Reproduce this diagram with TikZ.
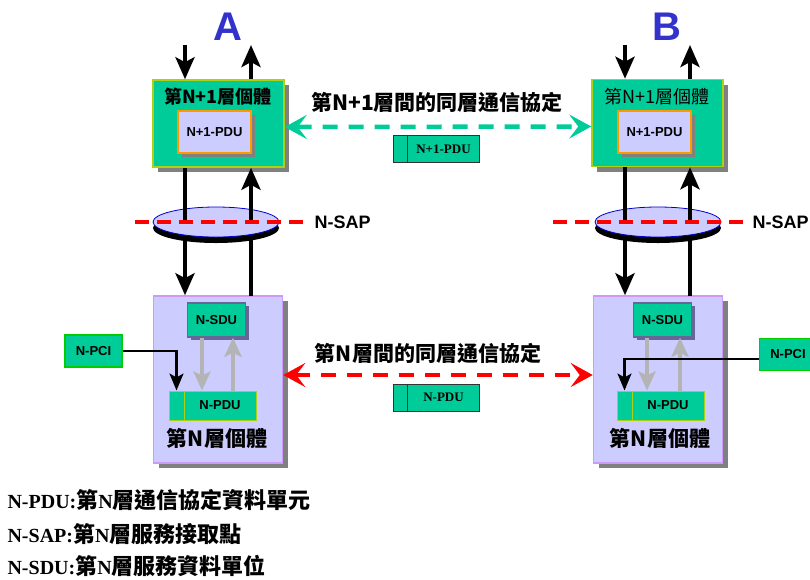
\documentclass[tikz,border=0pt]{standalone}
\usepackage{fontspec}
\setmainfont{Liberation Sans}
\newfontfamily\cjk{Noto Sans CJK TC}
\newfontfamily\tms{Liberation Serif}
\usetikzlibrary{arrows.meta,shadows,shapes.geometric}

\definecolor{entgreen}{RGB}{0,204,153}
\definecolor{limeedge}{RGB}{170,210,20}
\definecolor{lavender}{RGB}{204,204,255}
\definecolor{lilacedge}{RGB}{204,153,255}
\definecolor{pduorange}{RGB}{255,153,0}
\definecolor{letterblue}{RGB}{51,51,204}
\definecolor{slateedge}{RGB}{102,102,153}
\definecolor{pcigreen}{RGB}{0,204,0}
\definecolor{flowgray}{RGB}{180,180,180}

\tikzset{
  shade box/.style={drop shadow={shadow xshift=5pt,shadow yshift=-5pt,fill=gray,opacity=1}},
  upper/.style={rectangle,fill=entgreen,draw=limeedge,line width=1.5pt,shade box,
    minimum width=131pt,minimum height=87pt},
  lower/.style={rectangle,fill=lavender,draw=lilacedge,line width=1.5pt,shade box,
    minimum width=129pt,minimum height=167pt},
  inner/.style={rectangle,fill=lavender,draw=pduorange,line width=1.5pt,
    drop shadow={shadow xshift=4pt,shadow yshift=-4pt,fill=gray,opacity=1},
    minimum width=73pt,minimum height=42pt,font=\bfseries\fontsize{13}{15}\selectfont},
  sdu/.style={rectangle,fill=entgreen,draw=slateedge,line width=1.5pt,
    drop shadow={shadow xshift=3pt,shadow yshift=-3pt,fill=slateedge,opacity=1},
    minimum width=58pt,minimum height=34pt,font=\bfseries\fontsize{13}{15}\selectfont},
  pdu/.style={rectangle,fill=entgreen,draw=limeedge,line width=1pt,
    minimum width=72pt,minimum height=29pt,font=\bfseries\fontsize{13}{15}\selectfont},
  hdr/.style={rectangle,fill=entgreen,draw=limeedge,line width=1pt,
    minimum width=15pt,minimum height=29pt},
  pci/.style={rectangle,fill=entgreen,draw=pcigreen,line width=1.5pt,
    minimum width=57pt,minimum height=32pt,font=\bfseries\fontsize{13}{15}\selectfont},
  packet/.style={rectangle,fill=entgreen,draw=black!80,line width=1pt,
    minimum width=72pt,minimum height=27pt,font=\tms\bfseries\fontsize{13}{15}\selectfont},
  packethdr/.style={rectangle,fill=entgreen,draw=black!80,line width=1pt,
    minimum width=14pt,minimum height=27pt},
  sap/.style={ellipse,fill=lavender,draw=blue!80!black,line width=0.8pt,
    minimum width=126pt,minimum height=30pt,
    drop shadow={shadow xshift=0pt,shadow yshift=-6pt,fill=black,opacity=1}},
  letter/.style={text=letterblue,font=\bfseries\fontsize{40}{42}\selectfont},
  flow/.style={line width=4.5pt,-{Stealth[length=22pt,width=19pt,inset=5pt]}},
  gflow/.style={flowgray,line width=4pt,-{Stealth[length=19pt,width=17pt,inset=4pt]}},
  pcil/.style={line width=2.5pt,-{Stealth[length=17pt,width=14pt,inset=4pt]}},
  peer/.style={line width=4.5pt,dash pattern=on 15pt off 11pt,
    {Stealth[length=22pt,width=24pt,inset=9pt]}-{Stealth[length=22pt,width=24pt,inset=9pt]}},
  saplink/.style={red,line width=4pt,dash pattern=on 14pt off 8pt},
  title/.style={font=\cjk\bfseries\fontsize{21}{23}\selectfont},
  legend/.style={anchor=west,font=\bfseries\fontsize{20}{22}\selectfont},
}
\newcommand{\lgc}[1]{{\cjk\fontsize{22}{24}\selectfont #1}}

\begin{document}
\begin{tikzpicture}[x=1pt,y=-1pt]
\useasboundingbox (0,0) rectangle (810,579);

% entity A and B letters
\node[letter] (lA) at (228,27) {A};
\node[letter] (lB) at (667,27) {B};

% vertical flow below SAP (drawn first, hidden by the SAP)
\coordinate (dnA) at (185,222);
\coordinate (dnB) at (625,222);
\node[upper] (entA) at (218.5,123.5) {};
\node[upper] (entB) at (657.5,123) {};
\node[lower] (lowA) at (218,379.5) {};
\node[lower] (lowB) at (658,379.5) {};
\draw[flow] (dnA) -- (dnA |- lowA.north);
\draw[flow] (dnB) -- (dnB |- lowB.north);
\draw[line width=4.5pt] (251,222) -- (251,296);
\draw[line width=4.5pt] (690,222) -- (690,296);

% SAPs
\node[sap] (sapA) at (216,222) {};
\node[sap] (sapB) at (658,222) {};
\draw[line width=4.5pt] (entA.south -| dnA) -- (dnA);
\draw[line width=4.5pt] (entB.south -| dnB) -- (dnB);
\draw[flow] (251,222) -- (entA.south -| 251,0);
\draw[flow] (690,222) -- (entB.south -| 690,0);
\draw[saplink] (135,222) -- (310,222);
\draw[saplink] (553,222) -- (750,222);
\node[anchor=west,font=\bfseries\fontsize{18}{20}\selectfont] (sapAl) at (311,222) {N-SAP};
\node[anchor=west,font=\bfseries\fontsize{18}{20}\selectfont] (sapBl) at (749,222) {N-SAP};

% N+1 layer entities
\node[font=\cjk\bfseries\fontsize{18}{20}\selectfont] (tA) at (218,97) {第N+1層個體};
\node[font=\cjk\fontsize{18}{20}\selectfont] (tB) at (657,97) {第N+1層個體};
\node[inner] (ppA) at (214.5,132) {N+1-PDU};
\node[inner] (ppB) at (654.5,132) {N+1-PDU};
\coordinate (inA) at (185,45);
\coordinate (inB) at (625,45);
\draw[flow] (inA) -- (inA |- entA.north);
\draw[flow] (inB) -- (inB |- entB.north);
\draw[flow] (entA.north -| 251,0) -- (251,45);
\draw[flow] (entB.north -| 690,0) -- (690,45);

% N+1 peer protocol
\node[title] (peer1) at (437,102) {第N+1層間的同層通信協定};
\draw[peer,entgreen] ([yshift=-3.5pt]entA.east) -- ([yshift=-3.5pt]entB.west);
\node[packethdr] (ph1) at (400.5,149) {};
\node[packet] (pk1) at (443.5,149) {N+1-PDU};

% N layer entities
\node[sdu] (sduA) at (216.5,320) {N-SDU};
\node[sdu] (sduB) at (662.5,320) {N-SDU};
\node[hdr] (hdrA) at (176.5,405.5) {};
\node[pdu] (pduA) at (220,405.5) {N-PDU};
\node[hdr] (hdrB) at (624.5,405.5) {};
\node[pdu] (pduB) at (668,405.5) {N-PDU};
\draw[gflow] ([xshift=-14.5pt]sduA.south) -- ([xshift=-18pt]pduA.north);
\draw[gflow] ([xshift=13pt]pduA.north) -- ([xshift=16.5pt]sduA.south);
\draw[gflow] ([xshift=-15.5pt]sduB.south) -- ([xshift=-21pt]pduB.north);
\draw[gflow] ([xshift=12pt]pduB.north) -- ([xshift=17.5pt]sduB.south);
\node[font=\cjk\bfseries\fontsize{21}{23}\selectfont] (nA) at (217,438) {第N層個體};
\node[font=\cjk\bfseries\fontsize{21}{23}\selectfont] (nB) at (660,438) {第N層個體};
\node[pci] (pciA) at (93.5,351) {N-PCI};
\node[pci] (pciB) at (788,354.5) {N-PCI};
\draw[pcil] (pciA.east) -| (hdrA.north);
\draw[pcil] ([yshift=-4.5pt]pciB.west) -| (hdrB.north);

% N peer protocol
\node[title] (peer0) at (428,353) {第N層間的同層通信協定};
\draw[peer,red] ([yshift=4.5pt]lowA.east) -- ([yshift=4.5pt]lowB.west);
\node[packethdr] (ph0) at (400.5,397.5) {};
\node[packet] (pk0) at (443.5,397.5) {N-PDU};

% legend
\node[legend] (lg1) at (4,500) {{\tms N-PDU:}\lgc{第}{\tms N}\lgc{層通信協定資料單元}};
\node[legend] (lg2) at (4,534) {{\tms N-SAP:}\lgc{第}{\tms N}\lgc{層服務接取點}};
\node[legend] (lg3) at (4,566) {{\tms N-SDU:}\lgc{第}{\tms N}\lgc{層服務資料單位}};
\end{tikzpicture}
\end{document}
